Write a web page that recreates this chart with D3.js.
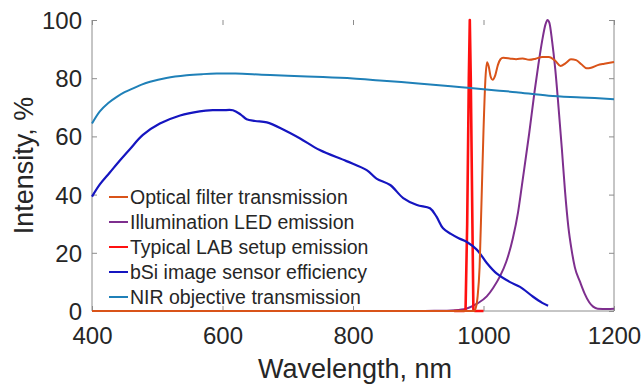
<!DOCTYPE html>
<html><head><meta charset="utf-8">
<script src="https://cdn.jsdelivr.net/npm/d3@7"></script>
<style>body{margin:0;background:#fff;} svg{display:block;}</style>
</head><body>
<svg id="chart" width="644" height="387"></svg>
<script>
// ---- data (wavelength nm, intensity %) ----
const xTicks = [400, 600, 800, 1000, 1200];
const yTicks = [0, 20, 40, 60, 80, 100];
const seriesNames = ["Optical filter transmission", "Illumination LED emission", "Typical LAB setup emission", "bSi image sensor efficiency", "NIR objective transmission"];

const filterWl  = [400, 500, 600, 700, 800, 900, 950, 975, 982, 985, 988, 991, 994, 997, 1000, 1003, 1005.5, 1008, 1011, 1014, 1018, 1022, 1026, 1030, 1040, 1050, 1060, 1070, 1080, 1090, 1100, 1110, 1118, 1126, 1134, 1142, 1150, 1158, 1165, 1175, 1185, 1200];
const filterVal = [0, 0, 0, 0, 0, 0, 0, 0, 0, 0, 1, 5, 15, 38, 62, 80, 85.5, 84, 80.5, 79.5, 81, 84.5, 86.5, 87, 86.8, 86.5, 86.8, 86.3, 86.7, 87.3, 87.3, 86, 84.2, 85.2, 86.5, 86.2, 84.8, 83.4, 83.6, 84.5, 85, 85.6];

const ledWl  = [400, 600, 800, 900, 930, 950, 970, 990, 1005, 1015, 1025, 1035, 1045, 1053, 1060, 1070, 1078, 1084, 1090, 1095, 1098, 1101, 1105, 1110, 1115, 1120, 1125, 1130, 1135, 1140, 1148, 1155, 1162, 1168, 1175, 1190, 1200];
const ledVal = [0, 0, 0, 0, 0.1, 0.2, 0.6, 2.5, 5, 8, 11.8, 17, 25, 34, 45, 61, 75, 84.5, 93, 98.5, 100, 99, 93, 83, 70, 56, 41, 29, 21, 15, 10, 6, 3, 1.5, 0.8, 0.7, 0.8];

const labWl  = [955, 970, 972.5, 975, 977.5, 979, 980.5, 983, 984.5, 987, 1000];
const labVal = [0, 0, 0.5, 30, 80, 100, 80, 30, 0.5, 0, 0];

const bsiWl  = [400, 412, 427, 443, 458, 478, 504, 535, 565, 585, 600, 616, 628, 637, 650, 668, 693, 719, 749, 790, 821, 836, 857, 877, 898, 918, 928, 938, 950, 962, 974, 990, 1005, 1020, 1040, 1056, 1076, 1090, 1099];
const bsiVal = [39.3, 43.5, 47.5, 51.8, 55.6, 60.5, 64.4, 67.2, 68.6, 69, 69, 69, 67.5, 65.9, 65.3, 64.8, 62.4, 59.3, 55.3, 51.5, 48.4, 45.5, 43.3, 38.8, 36.4, 35.3, 32.4, 28.4, 26.5, 25, 23.8, 21, 16.5, 12.9, 10, 8.3, 4.9, 2.8, 1.8];

const nirWl  = [400, 412, 425, 438, 450, 463, 476, 489, 514, 545, 570, 591, 620, 660, 700, 754, 800, 841, 900, 950, 980, 1020, 1050, 1100, 1150, 1200];
const nirVal = [64.4, 68.6, 71.5, 73.6, 75.2, 76.5, 77.8, 78.8, 80.1, 81, 81.4, 81.6, 81.6, 81.2, 80.8, 80.4, 79.9, 79.2, 78.2, 77.2, 76.6, 75.8, 75.2, 74, 73.4, 72.8];

const colors = ["#d95319", "#7e2f8e", "#ff1010", "#1515c0", "#1f80b8"];

// ---- layout ----
const svg = d3.select("#chart");
const m = {left: 92, right: 614, top: 20, bottom: 311};
const x = d3.scaleLinear().domain([400, 1200]).range([m.left, m.right]);
const y = d3.scaleLinear().domain([0, 100]).range([m.bottom, m.top]);
const axisColor = "#8c8c8c";
const textColor = "#262626";
const font = "Liberation Sans, Arial, Helvetica, sans-serif";

// axis lines
const ax = svg.append("g").attr("stroke", axisColor).attr("stroke-width", 1).attr("fill", "none");
ax.append("line").attr("x1", m.left).attr("x2", m.left).attr("y1", m.top).attr("y2", m.bottom);
ax.append("line").attr("x1", m.right).attr("x2", m.right).attr("y1", m.top).attr("y2", m.bottom);
ax.append("line").attr("x1", m.left).attr("x2", m.right).attr("y1", m.bottom).attr("y2", m.bottom);

const fmt = d3.format("d");
const yAxisL = svg.append("g").attr("transform", `translate(${m.left},0)`)
  .call(d3.axisLeft(y).tickValues(yTicks).tickFormat(fmt).tickSizeInner(-5).tickSizeOuter(0).tickPadding(10));
const yAxisR = svg.append("g").attr("transform", `translate(${m.right},0)`)
  .call(d3.axisRight(y).tickValues(yTicks).tickSizeInner(-5).tickSizeOuter(0).tickFormat(""));
const xAxisB = svg.append("g").attr("transform", `translate(0,${m.bottom})`)
  .call(d3.axisBottom(x).tickValues(xTicks).tickFormat(fmt).tickSizeInner(-5).tickSizeOuter(0).tickPadding(16));
const xAxisT = svg.append("g").attr("transform", `translate(0,${m.top})`)
  .call(d3.axisTop(x).tickValues(xTicks).tickSizeInner(-5).tickSizeOuter(0).tickFormat(""));
[yAxisL, yAxisR, xAxisB, xAxisT].forEach(g => {
  g.select(".domain").remove();
  g.selectAll(".tick line").attr("stroke", axisColor);
  g.selectAll("text").attr("fill", textColor).style("font-family", font).style("font-size", "24px");
});
yAxisL.selectAll("text").attr("dy", "0.35em");

// axis titles
svg.append("text").attr("x", (m.left + m.right) / 2 + 2).attr("y", 378)
  .attr("text-anchor", "middle").attr("fill", textColor)
  .style("font-family", font).style("font-size", "27px").text("Wavelength, nm");
svg.append("text").attr("transform", `translate(33,${(m.top + m.bottom) / 2}) rotate(-90)`)
  .attr("text-anchor", "middle").attr("fill", textColor)
  .style("font-family", font).style("font-size", "27px").text("Intensity, %");

// ---- series ----
const line = d3.line().x(d => x(d[0])).y(d => y(Math.max(0, d[1]))).curve(d3.curveMonotoneX);
const smooth = d3.line().x(d => x(d[0])).y(d => y(d[1])).curve(d3.curveCatmullRom.alpha(0.5));
const lineLin = d3.line().x(d => x(d[0])).y(d => y(d[1]));
const zipS = (a, b) => a.map((v, i) => [v, b[i]]);
const series = [
  {data: zipS(ledWl, ledVal), c: colors[1], w: 2, g: line},
  {data: zipS(labWl, labVal), c: colors[2], w: 2.6, g: lineLin},
  {data: zipS(bsiWl, bsiVal), c: colors[3], w: 2.2, g: smooth},
  {data: zipS(filterWl, filterVal), c: colors[0], w: 2, g: line},
  {data: zipS(nirWl, nirVal), c: colors[4], w: 2, g: smooth},
];
series.forEach(s => {
  svg.append("path").datum(s.data)
    .attr("fill", "none").attr("stroke", s.c).attr("stroke-width", s.w)
    .attr("stroke-linejoin", "round")
    .attr("d", s.g);
});

// ---- legend ----
const leg = svg.append("g");
seriesNames.forEach((n, i) => {
  const yy = 197 + i * 25;
  leg.append("line").attr("x1", 109).attr("x2", 128).attr("y1", yy).attr("y2", yy)
    .attr("stroke", colors[i]).attr("stroke-width", 2);
  leg.append("text").attr("x", 130).attr("y", yy + 6.5).attr("fill", textColor)
    .style("font-family", font).style("font-size", "19.5px").text(n);
});
</script>
</body></html>
